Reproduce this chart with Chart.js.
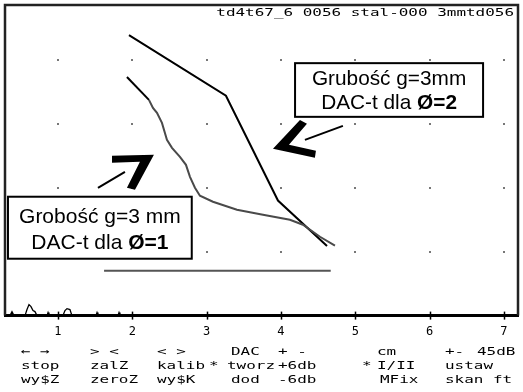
<!DOCTYPE html>
<html>
<head>
<meta charset="utf-8">
<script src="https://cdn.jsdelivr.net/npm/chart.js@4.4.1/dist/chart.umd.min.js"></script>
<style>
  html, body { margin: 0; padding: 0; background: #fff; }
  #wrap { width: 523px; height: 392px; }
</style>
</head>
<body>
<div id="wrap"><canvas id="dac"></canvas></div>
<script>
// ------------------- DANE -------------------
// krzywa DAC dla Ø=2 (linia łamana)
const dac2X = [1.955, 3.26, 3.96, 4.62];
const dac2Y = [4.39, 3.44, 1.80, 1.09];

// krzywa DAC dla Ø=1
const dac1X = [1.928, 2.224, 2.278, 2.332, 2.399, 2.466, 2.534, 2.641, 2.722, 2.776,
  2.843, 2.910, 3.085, 3.408, 3.758, 4.121, 4.296, 4.525, 4.727];
const dac1Y = [3.734, 3.375, 3.25, 3.172, 3.016, 2.75, 2.625, 2.484, 2.359, 2.172,
  2.0, 1.875, 1.781, 1.656, 1.578, 1.5, 1.422, 1.234, 1.094];

// poziom progu
const progX = [1.62, 4.67];
const progY = [0.70, 0.70];

// szum przy linii bazowej
const szumX = [0.287, 0.354, 0.381, 0.408, 0.556, 0.583, 0.610, 0.637, 0.664, 0.690,
  0.718, 0.852, 0.866, 0.879, 1.067, 1.094, 1.121, 1.161, 1.188, 1.511, 1.525, 1.538,
  1.807, 1.821, 1.834, 7.19];
const szumY = [0, 0, 0.0625, 0, 0, 0.094, 0.172, 0.141, 0.078, 0.0625,
  0, 0, 0.047, 0, 0, 0.078, 0.109, 0.094, 0, 0, 0.047, 0,
  0, 0.047, 0, 0];

const ticksX = [1, 2, 3, 4, 5, 6, 7];
const siatkaY = [1, 2, 3, 4];

const naglowek = "td4t67_6 0056 stal-000 3mmtd056";
// menu pod wykresem: [tekst, kolumna x, wiersz]
const menu = [
  ["\u2190 \u2192", 21, 0], ["> <", 90, 0], ["< >", 157, 0], ["DAC", 231, 0], ["+ -", 278, 0],
  ["cm", 377, 0], ["+-", 445, 0], ["45dB", 477, 0],
  ["stop", 21, 1], ["zalZ", 90, 1], ["kalib", 157, 1], ["*", 209, 1], ["tworz", 227, 1],
  ["+6db", 278, 1], ["*", 362, 1], ["I/II", 377, 1], ["ustaw", 445, 1],
  ["wy$Z", 21, 2], ["zeroZ", 90, 2], ["wy$K", 157, 2], ["dod", 231, 2], ["-6db", 278, 2],
  ["MFix", 380, 2], ["skan", 445, 2], ["ft", 493, 2],
];

// opisy w ramkach (narożniki w jednostkach osi)
const opisy = [
  { x0: 0.327, x1: 2.80, y0: 1.86, y1: 0.89, l1: "Grobość g=3 mm", l2: "DAC-t dla ", b: "Ø=1", dy: [20, 46], f: 21 },
  { x0: 4.19, x1: 6.72, y0: 3.95, y1: 3.11, l1: "Grubość g=3mm", l2: "DAC-t dla ", b: "Ø=2", dy: [16, 40], f: 20.8 },
];
// grube groty strzałek i cienkie kreski
const groty = [
  [[1.727, 2.50], [2.291, 2.516], [2.036, 1.969], [1.928, 2.0], [2.103, 2.406], [1.727, 2.39]],
  [[3.893, 2.609], [4.256, 3.0625], [4.350, 3.0], [4.108, 2.672], [4.471, 2.578], [4.457, 2.469]],
];
const kreski = [
  [[1.538, 2.0], [1.901, 2.25]],
  [[4.323, 2.75], [4.834, 2.969]],
];

const pkt = (xs, ys) => xs.map((v, i) => ({ x: v, y: ys[i] }));

// tekst "pikselowy" - rozciągnięta czcionka mono
function mono(ctx, txt, x, y, size, sx, align) {
  ctx.save();
  ctx.font = size + 'px "DejaVu Sans Mono"';
  ctx.textBaseline = "middle";
  ctx.textAlign = "left";
  let w = ctx.measureText(txt).width * sx;
  let px = align === "right" ? x - w : x;
  ctx.scale(sx, 1);
  ctx.fillText(txt, px / sx, y);
  ctx.restore();
}

const ekran = {
  id: "ekran",
  beforeDatasetsDraw(chart) {
    const { ctx, chartArea: a, scales: { x, y } } = chart;
    ctx.save();
    ctx.fillStyle = "#777";
    ticksX.forEach((gx) => {
      siatkaY.forEach((gy) => {
        ctx.fillRect(Math.round(x.getPixelForValue(gx)) - 1, Math.round(y.getPixelForValue(gy)) - 1, 2, 2);
      });
    });
    // ramka
    ctx.strokeStyle = "#222";
    ctx.lineWidth = 2.5;
    ctx.beginPath();
    ctx.moveTo(a.left, a.bottom);
    ctx.lineTo(a.left, a.top);
    ctx.lineTo(a.right, a.top);
    ctx.lineTo(a.right, a.bottom);
    ctx.stroke();
    ctx.restore();
  },
  afterDatasetsDraw(chart) {
    const { ctx, chartArea: a, scales: { x, y } } = chart;
    ctx.save();
    // podziałka na osi
    ctx.strokeStyle = "#000";
    ctx.lineWidth = 1.5;
    ticksX.forEach((t) => {
      const px = Math.round(x.getPixelForValue(t)) + 0.5;
      ctx.beginPath();
      ctx.moveTo(px, a.bottom - 4);
      ctx.lineTo(px, a.bottom + 4);
      ctx.stroke();
    });
    // strzałki
    ctx.fillStyle = "#000";
    groty.forEach((g) => {
      ctx.beginPath();
      g.forEach(([gx, gy], i) => {
        const px = x.getPixelForValue(gx), py = y.getPixelForValue(gy);
        if (i === 0) ctx.moveTo(px, py); else ctx.lineTo(px, py);
      });
      ctx.closePath();
      ctx.fill();
    });
    ctx.lineWidth = 2;
    kreski.forEach(([p, q]) => {
      ctx.beginPath();
      ctx.moveTo(x.getPixelForValue(p[0]), y.getPixelForValue(p[1]));
      ctx.lineTo(x.getPixelForValue(q[0]), y.getPixelForValue(q[1]));
      ctx.stroke();
    });
    // ramki z opisami
    opisy.forEach((o) => {
      const l = x.getPixelForValue(o.x0), r = x.getPixelForValue(o.x1);
      const t = y.getPixelForValue(o.y0), b = y.getPixelForValue(o.y1);
      ctx.fillStyle = "#fff";
      ctx.fillRect(l, t, r - l, b - t);
      ctx.strokeStyle = "#000";
      ctx.lineWidth = 2;
      ctx.strokeRect(l, t, r - l, b - t);
      const cx = (l + r) / 2;
      const zwykly = o.f + 'px "Liberation Sans"';
      const gruby = "bold " + zwykly;
      ctx.fillStyle = "#000";
      ctx.textBaseline = "middle";
      ctx.textAlign = "center";
      ctx.font = zwykly;
      ctx.fillText(o.l1, cx, t + o.dy[0]);
      const w1 = ctx.measureText(o.l2).width;
      ctx.font = gruby;
      const w2 = ctx.measureText(o.b).width;
      const sx = cx - (w1 + w2) / 2;
      ctx.textAlign = "left";
      ctx.font = zwykly;
      ctx.fillText(o.l2, sx, t + o.dy[1]);
      ctx.font = gruby;
      ctx.fillText(o.b, sx + w1, t + o.dy[1]);
    });
    ctx.restore();
  },
  afterDraw(chart) {
    const { ctx, chartArea: a } = chart;
    ctx.save();
    ctx.fillStyle = "#000";
    mono(ctx, naglowek, a.right - 4, a.top + 8, 11, 1.45, "right");
    const wiersze = [352, 366, 380];
    menu.forEach(([txt, mx, w]) => mono(ctx, txt, mx, wiersze[w], 11, 1.45, "left"));
    ctx.restore();
  },
};

new Chart(document.getElementById("dac"), {
  type: "scatter",
  data: {
    datasets: [
      {
        data: pkt(szumX, szumY),
        showLine: true,
        borderColor: "#000",
        borderWidth: 1.3,
        pointRadius: 0,
      },
      {
        data: pkt(progX, progY),
        showLine: true,
        borderColor: "#555",
        borderWidth: 2,
        pointRadius: 0,
      },
      {
        data: pkt(dac1X, dac1Y),
        showLine: true,
        borderColor: "#4a4a4a",
        borderWidth: 2,
        pointRadius: 0,
        segment: {
          borderColor: (c) => (c.p0DataIndex === 0 ? "#000" : "#4a4a4a"),
        },
      },
      {
        data: pkt(dac2X, dac2Y),
        showLine: true,
        borderColor: "#000",
        borderWidth: 2,
        pointRadius: 0,
      },
    ],
  },
  options: {
    responsive: true,
    maintainAspectRatio: false,
    animation: false,
    layout: { padding: { left: 5, right: 5, top: 5, bottom: 44 } },
    plugins: { legend: { display: false }, tooltip: { enabled: false } },
    scales: {
      x: {
        type: "linear",
        min: 0.287,
        max: 7.19,
        grid: { display: false, drawTicks: false },
        border: { display: true, color: "#000", width: 3 },
        ticks: {
          stepSize: 1,
          includeBounds: false,
          padding: 9,
          color: "#000",
          font: { family: "DejaVu Sans Mono", size: 12 },
        },
      },
      y: {
        display: false,
        min: 0,
        max: 4.86,
      },
    },
  },
  plugins: [ekran],
});
</script>
</body>
</html>
